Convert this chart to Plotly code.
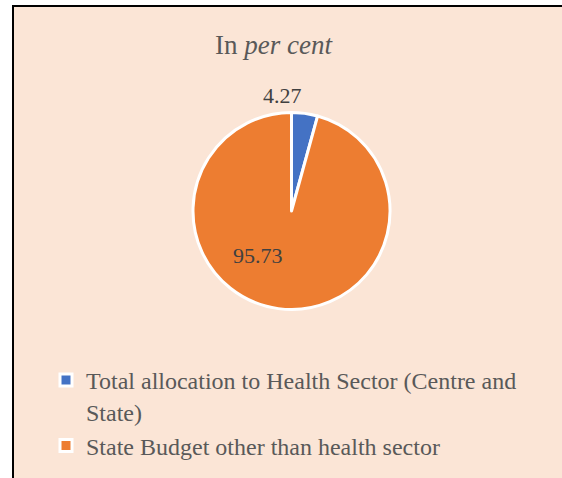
import plotly.graph_objects as go

W, H = 562, 478

# Share of the state budget, in per cent
labels = [
    "Total allocation to Health Sector (Centre and<br>State)",
    "State Budget other than health sector",
]
values = [4.27, 95.73]
colors = ["#4472C4", "#ED7D31"]

title_text = "In <i>per cent</i>"
bg = "#FBE5D6"


def px(x):
    return x / W


def py(y):
    return 1 - y / H


# pie centre and radius in pixels
cx, cy, r = 291.5, 211, 98.5

fig = go.Figure(
    go.Pie(
        labels=labels,
        values=values,
        marker=dict(colors=colors, line=dict(color="white", width=3)),
        sort=False,
        direction="clockwise",
        rotation=0,
        textinfo="none",
        hoverinfo="label+value",
        domain=dict(x=[px(cx - r), px(cx + r)], y=[py(cy + r), py(cy - r)]),
    )
)

# data labels
label_pos = [(282.5, 96), (257.5, 255)]
for v, (lx, ly) in zip(values, label_pos):
    fig.add_annotation(
        x=px(lx), y=py(ly), xref="paper", yref="paper",
        text=f"{v:.2f}", showarrow=False,
        font=dict(family="Liberation Serif", size=22, color="#404040"),
        xanchor="center", yanchor="middle",
    )

# chart title
fig.add_annotation(
    x=px(273.5), y=py(45), xref="paper", yref="paper",
    text=title_text, showarrow=False,
    font=dict(family="Liberation Serif", size=27, color="#595959"),
    xanchor="center", yanchor="middle",
)

# chart area with border
fig.add_shape(
    type="rect", xref="paper", yref="paper",
    x0=px(13), x1=px(W + 20), y0=py(H + 20), y1=py(6),
    fillcolor=bg, line=dict(color="black", width=2), layer="below",
)

fig.update_layout(
    width=W, height=H,
    margin=dict(l=0, r=0, t=0, b=0),
    paper_bgcolor="white",
    plot_bgcolor="white",
    showlegend=True,
    legend=dict(
        x=px(46), y=py(358), xanchor="left", yanchor="top",
        valign="top",
        font=dict(family="Liberation Serif", size=24, color="#595959"),
        bgcolor="rgba(0,0,0,0)",
        itemclick=False, itemdoubleclick=False,
    ),
)

fig.write_html("out.html")
